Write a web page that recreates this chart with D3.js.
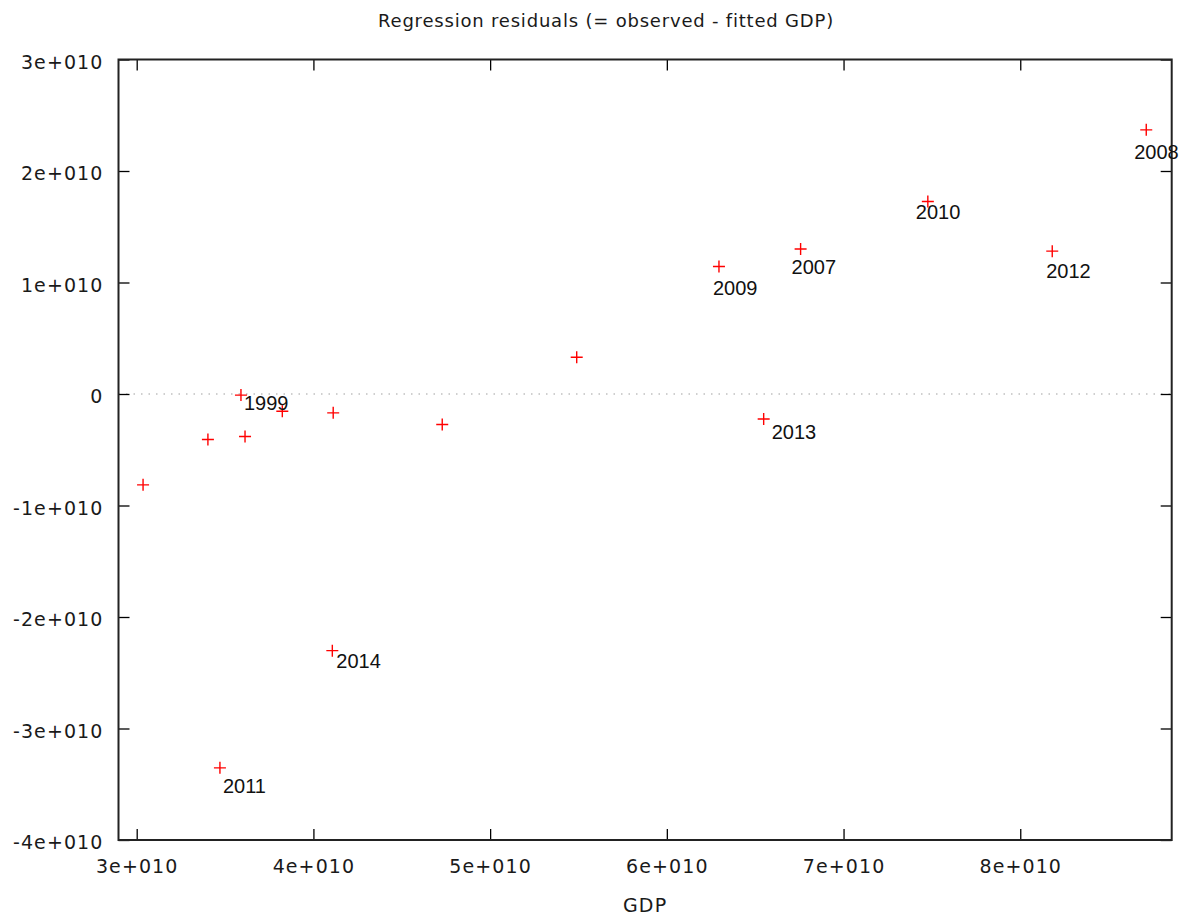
<!DOCTYPE html>
<html>
<head>
<meta charset="utf-8">
<script src="https://cdn.jsdelivr.net/npm/d3@7"></script>
<style>
  html, body { margin: 0; padding: 0; background: #fff; }
  svg { display: block; }
</style>
</head>
<body>
<svg id="chart" width="1195" height="916"></svg>
<script>
// ---- data ----
const gdp = [3.036e10, 3.403e10, 3.590e10, 3.613e10, 3.824e10, 4.112e10, 4.729e10, 5.490e10,
             6.295e10, 6.757e10, 6.548e10, 7.477e10, 8.181e10, 8.713e10, 4.107e10, 3.471e10];
const residual = [-0.815e10, -0.408e10, -0.010e10, -0.381e10, -0.155e10, -0.169e10, -0.274e10, 0.330e10,
                  1.143e10, 1.300e10, -0.224e10, 1.726e10, 1.281e10, 2.369e10, -2.302e10, -3.353e10];
const yearLabels = ["", "", "1999", "", "", "", "", "",
                    "2009", "2007", "2013", "2010", "2012", "2008", "2014", "2011"];
const xTicks = [3e10, 4e10, 5e10, 6e10, 7e10, 8e10];
const yTicks = [-4e10, -3e10, -2e10, -1e10, 0, 1e10, 2e10, 3e10];
const title = "Regression residuals (= observed - fitted GDP)";
const xTitle = "GDP";

// ---- layout (label offsets in px from point) ----
const labelOffsets = {
  "1999": [3, 15], "2009": [-6, 28], "2007": [-9, 25], "2013": [8, 20], "2010": [-12, 17],
  "2012": [-6, 27], "2008": [-12, 29], "2014": [4, 17], "2011": [3, 25]
};

const svg = d3.select("#chart");
const L = 118.5, R = 1171.7, T = 59.5, B = 840;

const x = d3.scaleLinear().domain([2.897e10, 8.857e10]).range([L, R]);
const y = d3.scaleLinear().domain([-4e10, 3e10]).range([B, T]);

const fmt = d => d === 0 ? "0" : (d / 1e10) + "e+010";
const tickFont = "DejaVu Sans, Verdana, sans-serif";
const tickLen = 11;

// zero line
svg.append("line")
  .attr("x1", L).attr("x2", R).attr("y1", y(0)).attr("y2", y(0))
  .attr("stroke", "#a0a0a0").attr("stroke-width", 1.2).attr("stroke-dasharray", "1.5,6");

function styleAxis(g, hideText) {
  g.select(".domain").remove();
  g.selectAll(".tick line").attr("stroke", "#000").attr("stroke-width", 1.3);
  g.selectAll(".tick text")
    .attr("fill", "#1a1a1a").style("font-family", tickFont).style("font-size", "19px")
    .style("letter-spacing", "1.1px");
  if (hideText) g.selectAll(".tick text").remove();
}

svg.append("g").attr("transform", `translate(0,${B})`)
  .call(d3.axisBottom(x).tickValues(xTicks).tickFormat(fmt).tickSize(-tickLen).tickPadding(20))
  .call(g => styleAxis(g, false));
svg.append("g").attr("transform", `translate(0,${T})`)
  .call(d3.axisTop(x).tickValues(xTicks).tickSize(-tickLen))
  .call(g => styleAxis(g, true));
svg.append("g").attr("transform", `translate(${L},0)`)
  .call(d3.axisLeft(y).tickValues(yTicks).tickFormat(fmt).tickSize(-tickLen).tickPadding(15))
  .call(g => styleAxis(g, false))
  .call(g => g.selectAll(".tick text").attr("dy", "0.45em"));
svg.append("g").attr("transform", `translate(${R},0)`)
  .call(d3.axisRight(y).tickValues(yTicks).tickSize(-tickLen))
  .call(g => styleAxis(g, true));

// frame
svg.append("rect").attr("x", L).attr("y", T).attr("width", R - L).attr("height", B - T)
  .attr("fill", "none").attr("stroke", "#222").attr("stroke-width", 2);

// points
const pts = gdp.map((g, i) => ({ gx: g, ry: residual[i], label: yearLabels[i] }));
const s = 6;
const pg = svg.append("g");
pts.forEach(p => {
  const cx = x(p.gx), cy = y(p.ry);
  pg.append("path")
    .attr("d", `M${cx - s},${cy}H${cx + s}M${cx},${cy - s}V${cy + s}`)
    .attr("stroke", "#ff0000").attr("stroke-width", 1.4).attr("fill", "none");
});

// labels
svg.append("g").selectAll("text")
  .data(pts.filter(p => p.label))
  .join("text")
  .attr("x", p => x(p.gx) + labelOffsets[p.label][0])
  .attr("y", p => y(p.ry) + labelOffsets[p.label][1])
  .attr("fill", "#111")
  .style("font-family", "Liberation Sans, Arial, sans-serif")
  .style("font-size", "20px")
  .text(p => p.label);

// title & axis label
svg.append("text").attr("x", 606).attr("y", 27).attr("text-anchor", "middle")
  .attr("fill", "#1a1a1a").style("font-family", tickFont).style("font-size", "18px")
  .style("letter-spacing", "0.8px")
  .text(title);
svg.append("text").attr("x", (L + R) / 2).attr("y", 912).attr("text-anchor", "middle")
  .attr("fill", "#1a1a1a").style("font-family", tickFont).style("font-size", "19px")
  .style("letter-spacing", "1.2px")
  .text(xTitle);
</script>
</body>
</html>
